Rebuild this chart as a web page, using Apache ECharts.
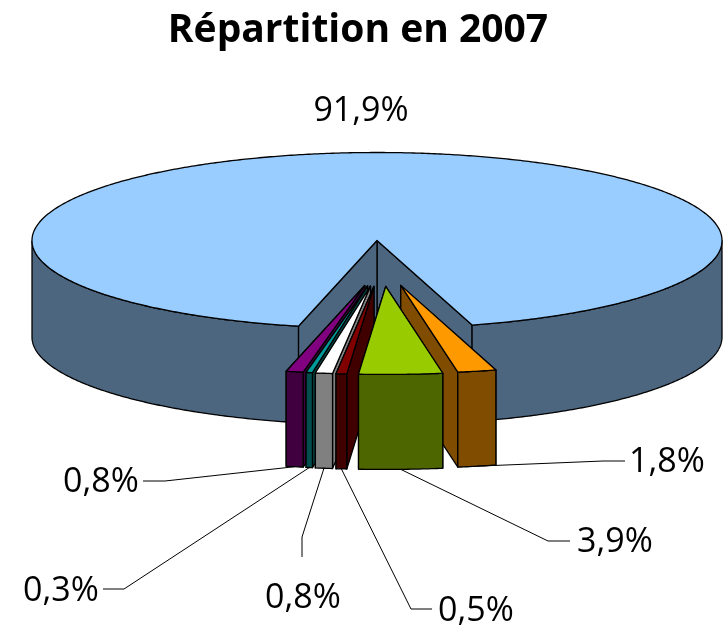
<!DOCTYPE html>
<html>
<head>
<meta charset="utf-8">
<style>html,body{margin:0;padding:0;background:#fff}#c{width:724px;height:628px}</style>
<script src="https://cdn.jsdelivr.net/npm/echarts@6/dist/echarts.min.js"></script>
</head>
<body>
<div id="c"></div>
<script>
const titleText = 'Répartition en 2007';
const categories = ['Part 1', 'Part 2', 'Part 3', 'Part 4', 'Part 5', 'Part 6', 'Part 7'];
const values = [91.9, 1.8, 3.9, 0.5, 0.8, 0.3, 0.8];
const valueLabels = ['91,9%', '1,8%', '3,9%', '0,5%', '0,8%', '0,3%', '0,8%'];
const topColors = ['#99CCFF', '#FF9900', '#99CC00', '#800000', '#FFFFFF', '#009999', '#800080'];
const sideColors = ['#4D6680', '#804D00', '#4D6600', '#400000', '#808080', '#004D4D', '#400040'];

// Projection and layout (separate from the data)
const geo = { cx: 377, cy: 240.5, rx: 345, ry: 88, depthMain: 96.5, depthSlice: 95,
  startDeg: -13.16, explodeX: 85, shiftX: 5, explodeY: 46 };
const drawOrder = [0, 1, 6, 5, 4, 3, 2];
const labelLayout = [
  { text: [361, 111] },
  { text: [667, 462], elbow: [603, 461], end: [625, 461] },
  { text: [615, 542], elbow: [548, 541], end: [570, 541] },
  { text: [476, 611], elbow: [411, 609], end: [432, 609] },
  { text: [303, 598], elbow: [302, 537], end: [302, 557] },
  { text: [61, 591], elbow: [124, 589], end: [103, 589] },
  { text: [101, 482], elbow: [165, 481], end: [143, 481] }
];
const labelFont = '34px "Open Sans", sans-serif';

const total = values.reduce((a, b) => a + b, 0);
let cursor = geo.startDeg;
const spans = values.map(v => { const s = cursor; cursor -= v / total * 360; return [s, cursor]; });
const rad = d => d * Math.PI / 180;

function renderSlice(params, api) {
  const i = api.value(1);
  const [a0, a1] = spans[i];
  const main = i === 0;
  const mid = rad((a0 + a1) / 2);
  const ox = main ? geo.cx : geo.cx + geo.shiftX + geo.explodeX * Math.sin(mid);
  const oy = main ? geo.cy : geo.cy + geo.explodeY * Math.cos(mid);
  const depth = main ? geo.depthMain : geo.depthSlice;
  const rim = d => [ox + geo.rx * Math.sin(rad(d)), oy + geo.ry * Math.cos(rad(d))];
  const down = p => [p[0], p[1] + depth];
  const edge = { stroke: '#000', lineWidth: 1.3, lineJoin: 'round' };
  const poly = (points, fill) => ({ type: 'polygon', shape: { points }, style: Object.assign({ fill }, edge), silent: true });

  const n = Math.max(2, Math.ceil(Math.abs(a1 - a0) * 2));
  const arc = [];
  for (let k = 0; k <= n; k++) arc.push(a0 + (a1 - a0) * k / n);

  const apex = [ox, oy];
  const children = [];
  const edges = [a0, a1].sort((p, q) => Math.abs(Math.sin(rad(q))) - Math.abs(Math.sin(rad(p))));
  edges.forEach(d => {
    const p = rim(d);
    children.push(poly([apex, p, down(p), down(apex)], sideColors[i]));
  });
  let run = [];
  const flush = () => {
    if (run.length > 1) {
      const pts = run.map(rim);
      children.push(poly(pts.concat(pts.slice().reverse().map(down)), sideColors[i]));
    }
    run = [];
  };
  arc.forEach(d => { if (Math.cos(rad(d)) >= -1e-9) run.push(d); else flush(); });
  flush();
  children.push(poly([apex].concat(arc.map(rim)), topColors[i]));

  const lay = labelLayout[i];
  if (lay.elbow) {
    const start = down(rim((a0 + a1) / 2));
    children.push({ type: 'polyline', shape: { points: [start, lay.elbow, lay.end] },
      style: { fill: 'none', stroke: '#000', lineWidth: 1 }, silent: true });
  }
  children.push({ type: 'text', silent: true,
    style: { text: valueLabels[i], x: lay.text[0], y: lay.text[1], fill: '#000',
      font: labelFont, align: 'center', verticalAlign: 'middle' } });
  return { type: 'group', children };
}

const chart = echarts.init(document.getElementById('c'), null, { renderer: 'canvas' });
chart.setOption({
  animation: false,
  backgroundColor: '#fff',
  title: { text: titleText, left: 353, top: 6, textAlign: 'center',
    textStyle: { fontFamily: '"Open Sans", sans-serif', fontWeight: 'bold', fontSize: 39, color: '#000' } },
  series: [{
    type: 'custom',
    coordinateSystem: 'none',
    renderItem: renderSlice,
    silent: true,
    data: drawOrder.map(i => ({ name: categories[i], value: [values[i], i] }))
  }]
});
</script>
</body>
</html>
